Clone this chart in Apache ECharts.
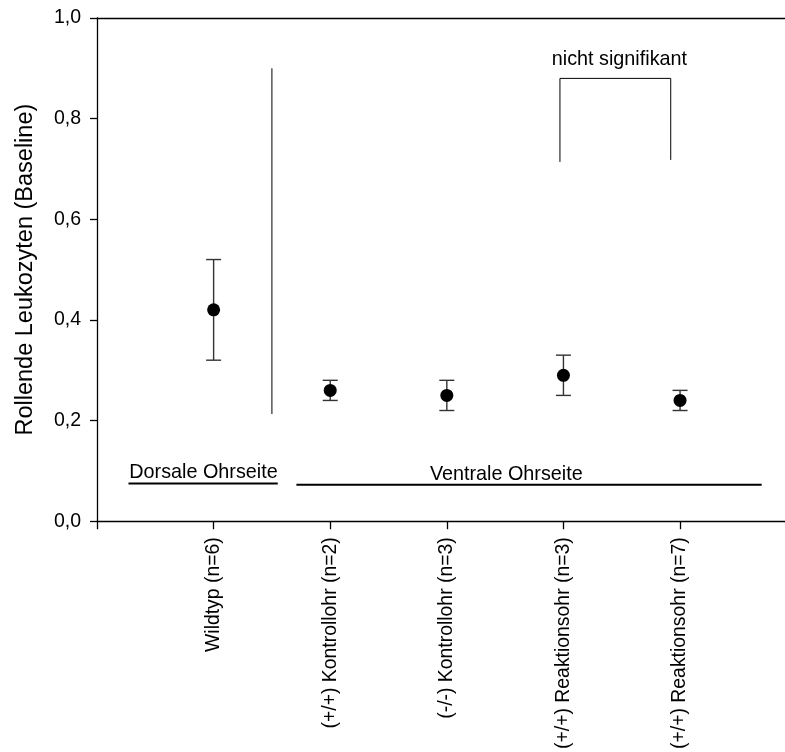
<!DOCTYPE html>
<html>
<head>
<meta charset="utf-8">
<style>
  html, body { margin: 0; padding: 0; background: #fff; }
  #chart { width: 785px; height: 752px; }
</style>
<script src="https://cdn.jsdelivr.net/npm/echarts@6/dist/echarts.min.js"></script>
</head>
<body>
<div id="chart"></div>
<script>
// Groups on the x axis (placed at x = 1..5)
const categories = [
  'Wildtyp (n=6)',
  '(+/+) Kontrollohr (n=2)',
  '(-/-) Kontrollohr (n=3)',
  '(+/+) Reaktionsohr (n=3)',
  '(+/+) Reaktionsohr (n=7)'
];
const positions = [1, 2, 3, 4, 5];
const means = [0.42, 0.26, 0.25, 0.29, 0.24];
const upper = [0.52, 0.28, 0.28, 0.33, 0.26];
const lower = [0.32, 0.24, 0.22, 0.25, 0.22];

const yTicks = [0, 0.2, 0.4, 0.6, 0.8, 1.0];
const xTicks = [0, 1, 2, 3, 4, 5];

// Annotation geometry in data units
const dividerLine = [[1.5, 0.213], [1.5, 0.90]];
const bracketLine = [[3.97, 0.714], [3.97, 0.88], [4.92, 0.88], [4.92, 0.718]];
const dorsalUnderline = [[0.27, 0.075], [1.55, 0.075]];
const ventralLine = [[1.71, 0.0725], [5.70, 0.0725]];
const annotations = [
  { text: 'Dorsale Ohrseite', x: 0.913, y: 0.0963 },
  { text: 'Ventrale Ohrseite', x: 3.51, y: 0.0924 },
  { text: 'nicht signifikant', x: 4.48, y: 0.9166 }
];

const FONT = '"Liberation Sans", Arial, sans-serif';

function lineSeries(points, width) {
  return {
    type: 'line',
    data: points,
    symbol: 'none',
    silent: true,
    animation: false,
    lineStyle: { color: '#000', width: width },
    z: 3
  };
}

const chart = echarts.init(document.getElementById('chart'), null, { renderer: 'canvas' });

chart.setOption({
  animation: false,
  backgroundColor: '#fff',
  grid: { left: 97, top: 18, right: 0, height: 503.5 },
  xAxis: [
    {
      type: 'value',
      min: 0, max: 5.9, interval: 1,
      splitLine: { show: false },
      axisLine: { show: true, onZero: false, lineStyle: { color: '#000', width: 1.3 } },
      axisTick: {
        show: true, inside: false, length: 8,
        customValues: xTicks,
        lineStyle: { color: '#000', width: 1.3 }
      },
      axisLabel: {
        rotate: 90,
        margin: 16,
        color: '#000',
        fontFamily: FONT,
        fontSize: 19.4,
        customValues: positions,
        formatter: function (v) {
          const i = positions.indexOf(v);
          return i >= 0 ? categories[i] : '';
        }
      }
    },
    {
      type: 'value',
      position: 'top',
      min: 0, max: 5.9,
      axisLine: { show: true, onZero: false, lineStyle: { color: '#000', width: 1.3 } },
      axisTick: { show: false },
      axisLabel: { show: false },
      splitLine: { show: false }
    }
  ],
  yAxis: {
    type: 'value',
    min: 0, max: 1, interval: 0.2,
    name: 'Rollende Leukozyten (Baseline)',
    nameLocation: 'middle',
    nameGap: 59,
    nameTextStyle: { color: '#000', fontFamily: FONT, fontSize: 23.5 },
    splitLine: { show: false },
    axisLine: { show: true, lineStyle: { color: '#000', width: 1.3 } },
    axisTick: { show: true, inside: false, length: 7, lineStyle: { color: '#000', width: 1.3 } },
    axisLabel: {
      margin: 16,
      color: '#000',
      fontFamily: FONT,
      fontSize: 19.5,
      formatter: function (v) {
        const t = yTicks.find(function (k) { return Math.abs(k - v) < 1e-9; });
        return t === undefined ? '' : t.toFixed(1).replace('.', ',');
      }
    }
  },
  series: [
    {
      // error bars with caps
      type: 'custom',
      data: positions.map(function (p, i) { return [p, lower[i], upper[i]]; }),
      renderItem: function (params, api) {
        const x = api.value(0);
        const lo = api.coord([x, api.value(1)]);
        const hi = api.coord([x, api.value(2)]);
        const half = 7.5;
        const style = { stroke: '#333', lineWidth: 1.4 };
        return {
          type: 'group',
          children: [
            { type: 'line', shape: { x1: lo[0], y1: lo[1], x2: hi[0], y2: hi[1] }, style: style },
            { type: 'line', shape: { x1: hi[0] - half, y1: hi[1], x2: hi[0] + half, y2: hi[1] }, style: style },
            { type: 'line', shape: { x1: lo[0] - half, y1: lo[1], x2: lo[0] + half, y2: lo[1] }, style: style }
          ]
        };
      },
      z: 2
    },
    {
      type: 'scatter',
      data: positions.map(function (p, i) { return [p, means[i]]; }),
      symbol: 'circle',
      symbolSize: 13,
      itemStyle: { color: '#000', opacity: 1 },
      z: 4
    },
    lineSeries(dividerLine, 1),
    lineSeries(bracketLine, 1),
    lineSeries(dorsalUnderline, 2),
    lineSeries(ventralLine, 2),
    {
      type: 'custom',
      data: annotations.map(function (a) { return [a.x, a.y]; }),
      renderItem: function (params, api) {
        const pt = api.coord([api.value(0), api.value(1)]);
        return {
          type: 'text',
          x: pt[0], y: pt[1],
          style: {
            text: annotations[params.dataIndex].text,
            fill: '#000',
            font: '19.8px ' + FONT,
            textAlign: 'center',
            textVerticalAlign: 'middle'
          }
        };
      },
      z: 5
    }
  ]
});
</script>
</body>
</html>
